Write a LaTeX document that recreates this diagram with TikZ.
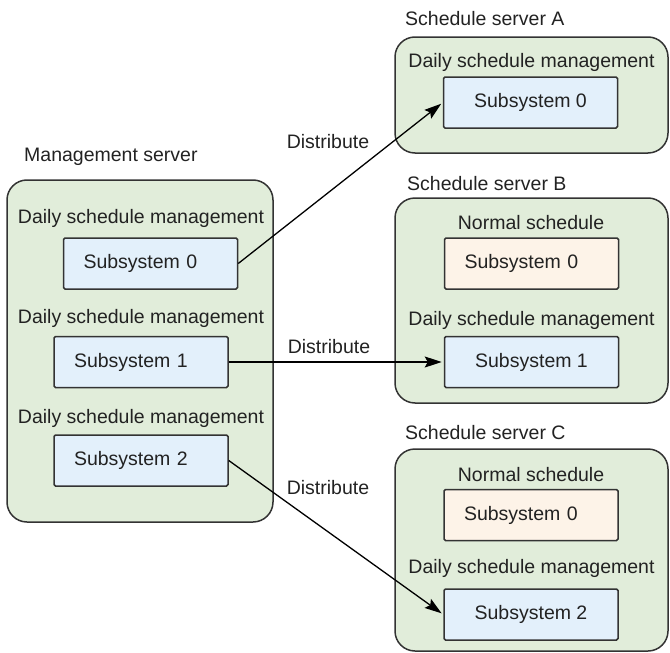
\documentclass[tikz,border=0pt]{standalone}
\usepackage{fontspec}
\setmainfont{Liberation Sans}
\usetikzlibrary{arrows.meta}
\definecolor{srvgreen}{HTML}{E1EDDA}
\definecolor{subblue}{HTML}{E3F0FB}
\definecolor{subpeach}{HTML}{FDF3E8}
\definecolor{linegray}{HTML}{333333}
\definecolor{txtgray}{HTML}{222222}
\begin{document}
\begin{tikzpicture}[x=1pt,y=-1pt,
  every node/.style={font=\fontsize{19.5pt}{23pt}\selectfont, text=txtgray, inner sep=0pt},
  server/.style={draw=linegray, line width=1.5pt, fill=srvgreen, rounded corners=20pt},
  subbox/.style={draw=linegray, line width=1.5pt, rounded corners=1.5pt, minimum height=51pt},
  subcentered/.style={subbox, minimum width=174pt, align=center},
  subpadded/.style={subbox, text width=134pt, align=left, inner xsep=20pt},
  bluebox/.style={fill=subblue},
  peachbox/.style={fill=subpeach},
  title/.style={anchor=west},
  arrowline/.style={draw=black, line width=1.3pt, shorten >=2pt, -{Stealth[length=17pt,width=11pt,inset=3pt]}}
]
\useasboundingbox (0,0) rectangle (670,653);

% servers
\node[server, minimum width=266pt, minimum height=342pt] (mgmt) at (140,351) {};
\node[server, minimum width=273pt, minimum height=116pt] (srvA) at (531.5,95) {};
\node[server, minimum width=273pt, minimum height=205pt] (srvB) at (531.5,300.5) {};
\node[server, minimum width=273pt, minimum height=202pt] (srvC) at (531.5,550) {};

% titles
\node[title] (tmgmt) at (24,157) {Management server};
\node[title] (tA) at (405,19) {Schedule server A};
\node[title] (tB) at (407,184) {Schedule server B};
\node[title] (tC) at (405,433) {Schedule server C};

% management server contents
\node (dm0) at (141,218) {Daily schedule management};
\node[subpadded, bluebox] (m0) at (150.5,263.5) {Subsystem 0};
\node (dm1) at (141,318) {Daily schedule management};
\node[subpadded, bluebox] (m1) at (141,362) {Subsystem 1};
\node (dm2) at (141,418) {Daily schedule management};
\node[subpadded, bluebox] (m2) at (141,460.5) {Subsystem 2};

% server A
\node (da) at (531.5,62) {Daily schedule management};
\node[subcentered, bluebox] (a0) at (530.5,102.5) {Subsystem 0};

% server B
\node (nb) at (531,223) {Normal schedule};
\node[subpadded, peachbox] (b0) at (531.5,263.5) {Subsystem 0};
\node (db) at (531.5,320) {Daily schedule management};
\node[subcentered, bluebox] (b1) at (531.5,362) {Subsystem 1};

% server C
\node (nc) at (531,475) {Normal schedule};
\node[subpadded, peachbox] (c0) at (531,515) {Subsystem 0};
\node (dc) at (531.5,568) {Daily schedule management};
\node[subcentered, bluebox] (c2) at (531,614.5) {Subsystem 2};

% connectors
\draw[arrowline] (m0.east) -- (a0.west);
\draw[arrowline] (m1.east) -- (b1.west);
\draw[arrowline] (m2.east) -- (c2.west);

% connector labels
\node (l1) at (328,142) {Distribute};
\node (l2) at (329,347) {Distribute};
\node (l3) at (328,488) {Distribute};
\end{tikzpicture}
\end{document}
